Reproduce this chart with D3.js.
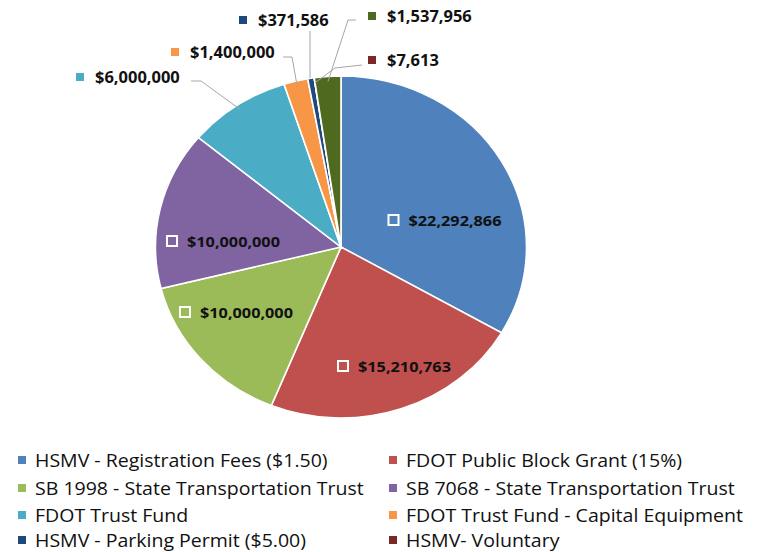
<!DOCTYPE html>
<meta charset="utf-8">
<style>
body{margin:0;background:#fff;}
text{font-family:"Open Sans",Lato,sans-serif;}
</style>
<script src="https://d3js.org/d3.v7.min.js"></script>
<svg id="chart" width="760" height="552"></svg>
<script>
// slice data, clockwise from 12 o'clock
var names = ["HSMV - Registration Fees ($1.50)", "FDOT Public Block Grant (15%)",
  "SB 1998 - State Transportation Trust", "SB 7068 - State Transportation Trust",
  "FDOT Trust Fund", "FDOT Trust Fund - Capital Equipment",
  "HSMV - Parking Permit ($5.00)", "HSMV- Voluntary", ""];
var values = [22292866, 15210763, 10000000, 10000000, 6000000, 1400000, 371586, 7613, 1537956];
var colors = ["#4f81bd", "#c0504d", "#9bbb59", "#8064a2", "#4bacc6", "#f79646", "#1f497d", "#7b2826", "#4f6a1e"];
var valueLabels = ["$22,292,866", "$15,210,763", "$10,000,000", "$10,000,000", "$6,000,000",
  "$1,400,000", "$371,586", "$7,613", "$1,537,956"];

var svg = d3.select("#chart");
var cx = 341, cy = 247, r = 171, sx = 1.085;

var pie = d3.pie().sort(null).value(d => d);
var arcs = pie(values);
var arc = d3.arc().innerRadius(0).outerRadius(r);

var g = svg.append("g").attr("transform", "translate(" + cx + "," + cy + ") scale(" + sx + ",1)");
g.selectAll("path").data(arcs).enter().append("path")
  .attr("d", arc)
  .attr("fill", (d, i) => colors[i])
  .attr("stroke", "#fff")
  .attr("stroke-width", 1.5);

// point on the pie edge (screen coords) for a slice
function edge(i, k) {
  var a = (arcs[i].startAngle + arcs[i].endAngle) / 2;
  return [cx + Math.sin(a) * r * k * sx, cy - Math.cos(a) * r * k];
}

// text stretched a bit sideways like the original image
function label(x, y, size, weight, s) {
  svg.append("text").attr("transform", "translate(" + x + "," + y + ") scale(" + sx + ",1)")
    .attr("font-size", size).attr("font-weight", weight).attr("fill", "#111").text(s);
}

// inside labels
var inside = [[393.5, 220], [343, 366], [185, 312], [172, 241]];
inside.forEach(function(p, i) {
  svg.append("rect").attr("x", p[0] - 5).attr("y", p[1] - 5).attr("width", 10).attr("height", 10)
    .attr("fill", colors[i]).attr("stroke", "#fff").attr("stroke-width", 2);
  label(p[0] + 15, p[1] + 5.5, 15, "bold", valueLabels[i]);
});

// outside labels: marker position and leader line start
var outside = {
  4: {m: [80, 77], line: [[191, 81], [201, 81]]},
  5: {m: [175, 52], line: [[283, 57], [292, 57]]},
  6: {m: [243, 20], line: [[310, 31], [310, 78]]},
  7: {m: [372, 60], line: [[362, 65], [335, 68]]},
  8: {m: [372, 16], line: [[356, 20], [348, 20]]}
};
Object.keys(outside).forEach(function(k) {
  var i = +k, o = outside[k];
  var pts = i == 6 ? o.line : o.line.concat([edge(i, 0.97)]);
  svg.append("path").attr("d", d3.line()(pts))
    .attr("fill", "none").attr("stroke", "#a6a6a6").attr("stroke-width", 1);
  svg.append("rect").attr("x", o.m[0] - 4).attr("y", o.m[1] - 4).attr("width", 8).attr("height", 8)
    .attr("fill", colors[i]);
  label(o.m[0] + 15, o.m[1] + 5.5, 15.2, "bold", valueLabels[i]);
});

// legend
var legX = [22, 393], legY = [460, 488, 515, 540];
names.slice(0, 8).forEach(function(n, i) {
  var x = legX[i % 2], y = legY[Math.floor(i / 2)];
  svg.append("rect").attr("x", x - 4).attr("y", y - 4).attr("width", 8).attr("height", 8).attr("fill", colors[i]);
  label(x + 13, y + 7, 18, "normal", n);
});
</script>
